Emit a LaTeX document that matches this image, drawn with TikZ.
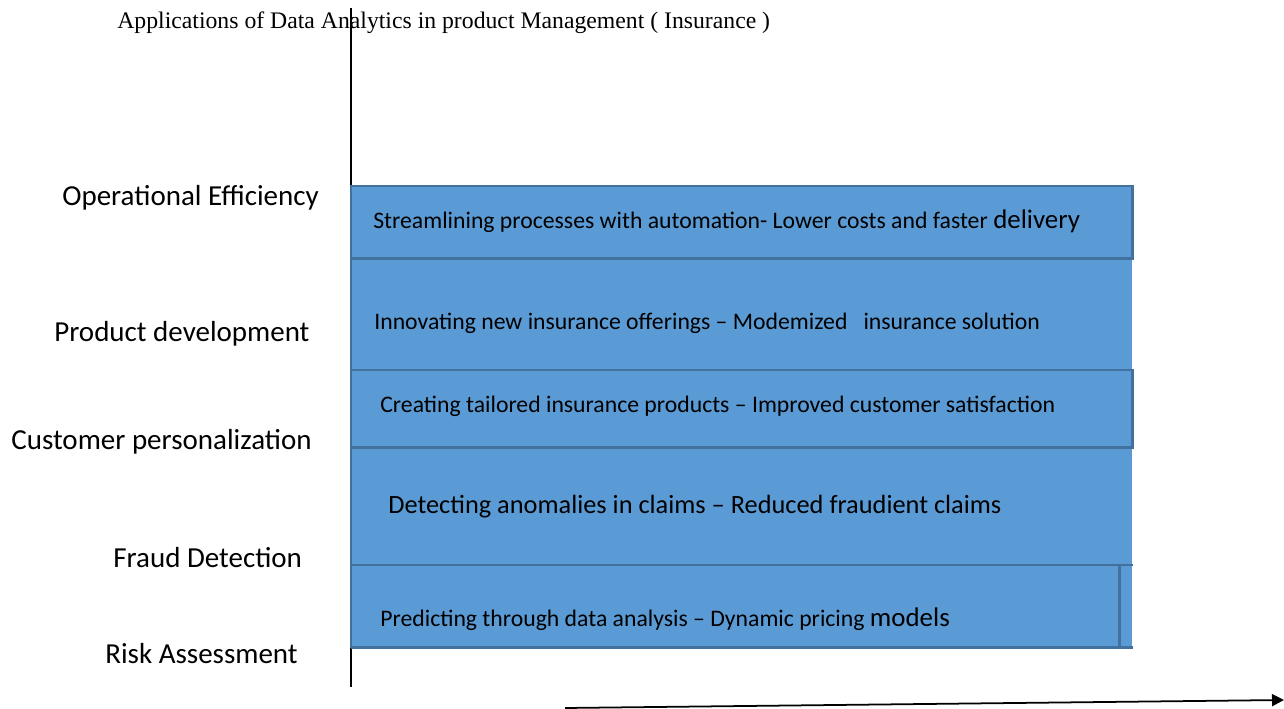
\documentclass[tikz,border=0pt]{standalone}
\usepackage{fontspec}
\setmainfont{Liberation Serif}
\newfontfamily\calfont{Carlito}
\usetikzlibrary{calc,arrows.meta}
\definecolor{barBlue}{HTML}{5B9BD5}
\definecolor{rimBlue}{HTML}{41719C}

\begin{document}
\begin{tikzpicture}[x=0.02cm, y=-0.02cm,
    bar/.style={fill=barBlue, draw=none, minimum width=15.62cm, inner sep=0pt, anchor=north west},
    rim/.style={draw=rimBlue, line width=1.5pt},
    area/.style={font=\calfont\fontsize{16.5}{19}\selectfont, anchor=west, inner sep=0pt},
    usecase/.style={font=\calfont\fontsize{13.5}{16}\selectfont, anchor=west, inner sep=0pt}]

    \useasboundingbox (0,0) rectangle (1284,709);

    \node (title) [anchor=west, inner sep=0pt, font=\fontsize{13.5}{16}\selectfont] at (117,23)
        {Applications of Data Analytics in product Management ( Insurance )};

    % axes
    \coordinate (ytop) at (351,8);
    \coordinate (ybot) at (351,687);
    \coordinate (xleft) at (565,708);
    \coordinate (xright) at (1284,700);
    \draw[line width=1.1pt] (ytop) -- (ybot);
    \draw[line width=1pt, -{Triangle[length=0.24cm, width=0.24cm]}] (xleft) -- (xright);

    % bars
    \node (box1) [bar, minimum height=1.44cm] at (351,186) {};
    \node (box2) [bar, minimum height=2.24cm] at (351,258) {};
    \node (box3) [bar, minimum height=1.54cm] at (351,370) {};
    \node (box4) [bar, minimum height=2.36cm] at (351,447) {};
    \node (box5) [bar, minimum height=1.64cm] at (351,565) {};

    \draw[rim] (box1.north west) rectangle (box1.south east);
    \draw[rim] (box3.north west) rectangle (box3.south east);
    \draw[rim] (box1.north west) -- (box5.south west);
    \draw[rim] (box5.north west) -- (box5.north east) (box5.south west) -- (box5.south east);
    \draw[rim] ($(box5.north east)+(-13,0)$) -- ($(box5.south east)+(-13,0)$);

    % texts in the bars
    \node (t1) [usecase] at (373,221) {Streamlining processes with automation- Lower costs and faster {\fontsize{15.3}{18}\selectfont delivery}};
    \node (t2) [usecase] at (374,323) {Innovating new insurance offerings – Modemized\ \ \ insurance solution};
    \node (t3) [usecase] at (380,406) {Creating tailored insurance products – Improved customer satisfaction};
    \node (t4) [usecase, font=\calfont\fontsize{15}{18}\selectfont] at (388,507) {Detecting anomalies in claims – Reduced fraudient claims};
    \node (t5) [usecase] at (380,619) {Predicting through data analysis – Dynamic pricing {\fontsize{15.3}{18}\selectfont models}};

    % areas
    \node (a1) [area] at (62,198) {Operational Efficiency};
    \node (a2) [area] at (54,334) {Product development};
    \node (a3) [area] at (11,442) {Customer personalization};
    \node (a4) [area] at (113,558) {Fraud Detection};
    \node (a5) [area] at (105,654) {Risk Assessment};
\end{tikzpicture}
\end{document}
